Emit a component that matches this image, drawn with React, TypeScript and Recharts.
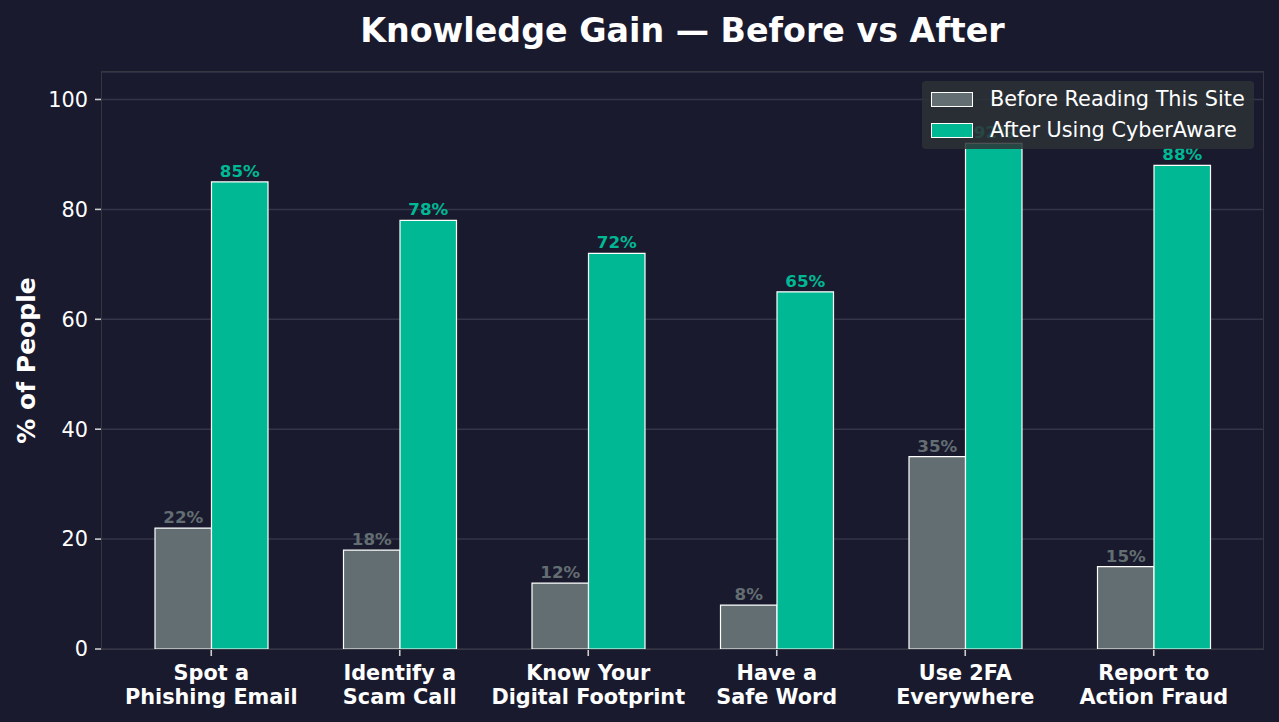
import React from "react";
import {
  BarChart,
  Bar,
  XAxis,
  YAxis,
  CartesianGrid,
  LabelList,
  Legend,
} from "recharts";

const categories = [
  "Spot a\nPhishing Email",
  "Identify a\nScam Call",
  "Know Your\nDigital Footprint",
  "Have a\nSafe Word",
  "Use 2FA\nEverywhere",
  "Report to\nAction Fraud",
];
const beforeValues = [22, 18, 12, 8, 35, 15];
const afterValues = [85, 78, 72, 65, 92, 88];
const yTicks = [0, 20, 40, 60, 80, 100];

const series = [
  { key: "before", name: "Before Reading This Site", color: "#636e72" },
  { key: "after", name: "After Using CyberAware", color: "#00b894" },
];

const data = categories.map((c, i) => ({
  category: c,
  before: beforeValues[i],
  after: afterValues[i],
}));

const BG = "#1a1a2e";
const FONT = "'DejaVu Sans', sans-serif";

function XTick(props: any) {
  const { x, y, payload } = props;
  const lines = String(payload.value).split("\n");
  return (
    <text
      x={x}
      y={y}
      textAnchor="middle"
      fill="#ffffff"
      fontSize={20.8}
      fontWeight="bold"
      fontFamily={FONT}
    >
      {lines.map((l, i) => (
        <tspan key={i} x={x} y={y + 17 + i * 23.5}>
          {l}
        </tspan>
      ))}
    </text>
  );
}

function LegendBox() {
  return (
    <div
      style={{
        background: "rgba(45,50,54,0.85)",
        borderRadius: 4,
        width: 332,
        height: 68,
        boxSizing: "border-box",
        padding: "3px 0 0 9px",
        fontFamily: FONT,
        fontSize: 20.8,
        color: "#ffffff",
      }}
    >
      {series.map((s) => (
        <div
          key={s.key}
          style={{ display: "flex", alignItems: "center", height: 31 }}
        >
          <span
            style={{
              display: "inline-block",
              width: 42,
              height: 15,
              background: s.color,
              border: "1.5px solid #ffffff",
              boxSizing: "border-box",
              marginRight: 17,
            }}
          />
          <span style={{ lineHeight: "31px" }}>{s.name}</span>
        </div>
      ))}
    </div>
  );
}

export default function App() {
  return (
    <div
      style={{
        position: "absolute",
        left: 0,
        top: 0,
        width: 1279,
        height: 722,
        background: BG,
        fontFamily: FONT,
        overflow: "hidden",
      }}
    >
      <div
        style={{
          position: "absolute",
          left: 102,
          width: 1161,
          top: 9,
          textAlign: "center",
          color: "#ffffff",
          fontSize: 33.3,
          fontWeight: "bold",
          lineHeight: "44px",
        }}
      >
        Knowledge Gain — Before vs After
      </div>
      <BarChart
        width={1279}
        height={722}
        data={data}
        margin={{ top: 72, right: 16, bottom: 0, left: 2 }}
        barGap={0}
      >
        <CartesianGrid
          vertical={false}
          stroke="#34344a"
          strokeWidth={1.5}
        />
        <XAxis
          dataKey="category"
          type="category"
          height={73}
          padding={{ left: 15, right: 15 }}
          axisLine={false}
          tickLine={{ stroke: "#cccccc", strokeWidth: 1.6 }}
          tickSize={7}
          tickMargin={7}
          tick={<XTick />}
          interval={0}
        />
        <YAxis
          width={100}
          domain={[0, 105]}
          ticks={yTicks}
          axisLine={false}
          tickLine={{ stroke: "#cccccc", strokeWidth: 1.6 }}
          tickSize={7}
          tickMargin={7}
          tick={{ fill: "#ffffff", fontSize: 20.8, fontFamily: FONT }}
          label={{
            value: "% of People",
            angle: -90,
            position: "center",
            dx: -26,
            fill: "#ffffff",
            fontSize: 25,
            fontWeight: "bold",
            fontFamily: FONT,
          }}
        />
        <Legend
          layout="vertical"
          align="center"
          verticalAlign="middle"
          content={<LegendBox />}
          wrapperStyle={{ position: "absolute", left: 922, top: 81, width: 332 }}
        />
        {series.map((s) => (
          <Bar
            key={s.key}
            dataKey={s.key}
            name={s.name}
            fill={s.color}
            stroke="#ffffff"
            strokeWidth={1.2}
            barSize={56.5}
            isAnimationActive={false}
          >
            <LabelList
              dataKey={s.key}
              position="top"
              offset={5}
              formatter={(v: any) => `${v}%`}
              fill={s.color}
              fontSize={16.7}
              fontWeight="bold"
              fontFamily={FONT}
            />
          </Bar>
        ))}
      </BarChart>
      <div
        style={{
          position: "absolute",
          left: 101,
          top: 71,
          width: 1163,
          height: 579,
          boxSizing: "border-box",
          border: "1.6px solid #363640",
          pointerEvents: "none",
        }}
      />
    </div>
  );
}
